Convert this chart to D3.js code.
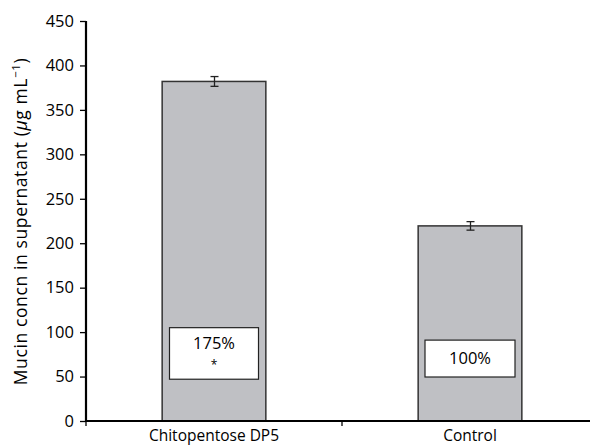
<!DOCTYPE html>
<html>
<head>
<meta charset="utf-8">
<script src="https://cdn.jsdelivr.net/npm/d3@7"></script>
<style>
  html, body { margin: 0; padding: 0; background: #fff; }
  svg { display: block; }
  text { font-family: "Open Sans", "DejaVu Sans", sans-serif; fill: #000; }
</style>
</head>
<body>
<svg id="chart" width="590" height="448"></svg>
<script>
// Mucin concentration in supernatant
const categories = ["Chitopentose DP5", "Control"];
const values = [382, 219.5];
const errors = [5.5, 4.8];
const percentLabels = ["175%", "100%"];
const significance = ["*", ""];
// label box extents in data units (top, bottom)
const boxTop = [105, 91];
const boxBottom = [47, 49.5];
const yTicks = [0, 50, 100, 150, 200, 250, 300, 350, 400, 450];

const svg = d3.select("#chart");
const margin = { left: 86, top: 21, bottom: 27 };
const plotBottom = 448 - margin.bottom;

const x = d3.scaleBand()
  .domain(categories)
  .range([margin.left, 598])
  .paddingInner(0)
  .paddingOuter(0);

const y = d3.scaleLinear()
  .domain([0, 450])
  .range([plotBottom, margin.top]);

const barW = x.bandwidth() * 0.405;

// bars
const g = svg.append("g");
g.selectAll("rect.bar")
  .data(categories)
  .join("rect")
  .attr("class", "bar")
  .attr("x", d => x(d) + x.bandwidth() / 2 - barW / 2)
  .attr("y", (d, i) => y(values[i]))
  .attr("width", barW)
  .attr("height", (d, i) => y(0) - y(values[i]))
  .attr("fill", "#bfc0c4")
  .attr("stroke", "#333")
  .attr("stroke-width", 1.5);

// error bars
const capW = 8;
categories.forEach((c, i) => {
  const cx = Math.round(x(c) + x.bandwidth() / 2) + 0.5;
  const eg = g.append("g").attr("stroke", "#222").attr("stroke-width", 1.3);
  eg.append("line").attr("x1", cx).attr("x2", cx)
    .attr("y1", y(values[i] + errors[i])).attr("y2", y(values[i] - errors[i]));
  eg.append("line").attr("x1", cx - capW / 2).attr("x2", cx + capW / 2)
    .attr("y1", y(values[i] + errors[i])).attr("y2", y(values[i] + errors[i]));
  eg.append("line").attr("x1", cx - capW / 2).attr("x2", cx + capW / 2)
    .attr("y1", y(values[i] - errors[i])).attr("y2", y(values[i] - errors[i]));
});

// percentage label boxes
categories.forEach((c, i) => {
  const cx = x(c) + x.bandwidth() / 2;
  const bw = i === 0 ? 89 : 90;
  g.append("rect")
    .attr("x", cx - bw / 2)
    .attr("y", y(boxTop[i]))
    .attr("width", bw)
    .attr("height", y(boxBottom[i]) - y(boxTop[i]))
    .attr("fill", "#fff")
    .attr("stroke", "#222")
    .attr("stroke-width", 1.2);
  const mid = (y(boxTop[i]) + y(boxBottom[i])) / 2;
  if (significance[i]) {
    g.append("text").attr("x", cx).attr("y", mid - 4.5)
      .attr("text-anchor", "middle").attr("font-size", 16.5)
      .text(percentLabels[i]);
    g.append("text").attr("x", cx).attr("y", mid + 16)
      .attr("text-anchor", "middle").attr("font-size", 12).attr("fill", "#333")
      .text(significance[i]);
  } else {
    g.append("text").attr("x", cx).attr("y", mid + 5.5)
      .attr("text-anchor", "middle").attr("font-size", 16.5)
      .text(percentLabels[i]);
  }
});

// y axis
const yAxis = d3.axisLeft(y).tickValues(yTicks).tickSize(6).tickPadding(6);
const ya = svg.append("g")
  .attr("transform", `translate(${margin.left},0)`)
  .call(yAxis);
ya.select(".domain").attr("stroke", "#000").attr("stroke-width", 2.2)
  .attr("d", `M0,${y(450)}V${y(0)}`);
ya.selectAll(".tick line").attr("stroke", "#000").attr("stroke-width", 1.3);
ya.selectAll(".tick text").attr("font-size", 16.5).attr("fill", "#000")
  .attr("font-family", "\"Open Sans\", sans-serif");

// x axis
const xAxis = d3.axisBottom(x).tickSize(0).tickPadding(9);
const xa = svg.append("g")
  .attr("transform", `translate(0,${plotBottom})`)
  .call(xAxis);
xa.select(".domain").attr("stroke", "#000").attr("stroke-width", 2.2)
  .attr("d", `M${margin.left},0H598`);
xa.selectAll(".tick text").attr("font-size", 15.5).attr("fill", "#000")
  .attr("font-family", "\"Open Sans\", sans-serif");
// separator ticks between categories
xa.selectAll("line.sep")
  .data([x(categories[0]), x(categories[1])])
  .join("line")
  .attr("class", "sep")
  .attr("x1", d => d).attr("x2", d => d)
  .attr("y1", 0).attr("y2", 5)
  .attr("stroke", "#000").attr("stroke-width", 1.3);

// y axis title, spread to span the axis from 58px to 385px
const titleTop = 58, titleBottom = 385;
const yt = svg.append("text")
  .attr("transform", `translate(27,${(titleTop + titleBottom) / 2}) rotate(-90)`)
  .attr("text-anchor", "middle")
  .attr("font-size", 17.5);
yt.append("tspan").text("Mucin concn in supernatant (");
yt.append("tspan").attr("font-style", "italic").text("\u03bc");
yt.append("tspan").text("g mL");
yt.append("tspan").attr("font-size", 11.5).attr("dy", -7).text("\u22121");
yt.append("tspan").attr("dy", 7).text(")");
const natural = yt.node().getComputedTextLength();
const nChars = yt.text().length;
const spacing = Math.max(0, (titleBottom - titleTop - natural) / (nChars - 1));
yt.attr("letter-spacing", spacing);
</script>
</body>
</html>
